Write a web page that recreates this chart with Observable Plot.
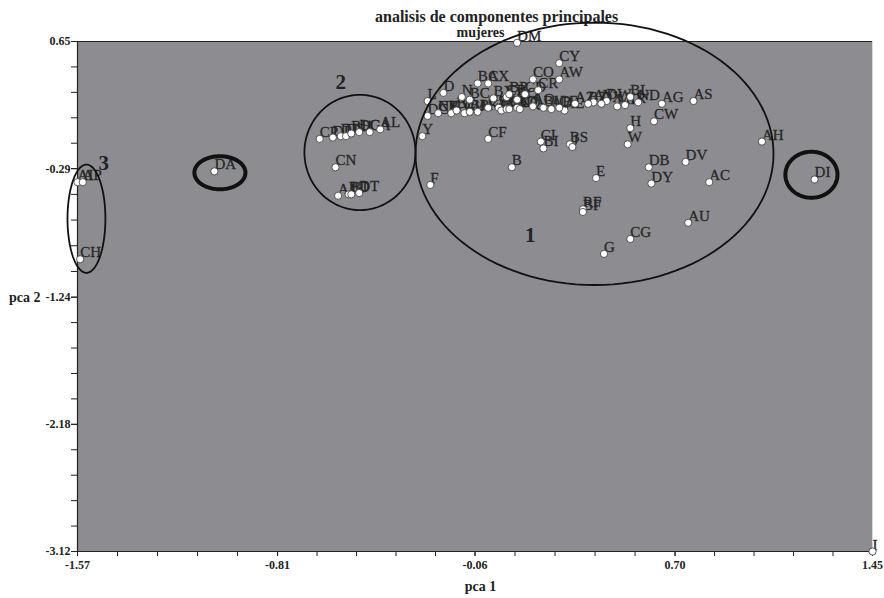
<!DOCTYPE html>
<html><head><meta charset="utf-8">
<script src="https://cdn.jsdelivr.net/npm/d3@7"></script>
<script src="https://cdn.jsdelivr.net/npm/@observablehq/plot@0.6"></script>
<style>body{margin:0;background:#fff} svg{display:block}</style>
</head><body><div id="chart"></div>
<script>
// ---- data ----
const labels = [
  "AI","AP","CH","DA",
  "CP","DL","DJ","DF","BH","DG","CA","AL","CN","AJ","BD","BJ","DT",
  "Y","F","L","D","DC","CK","BA","CX","DM","CY","CO","AW",
  "CF","CI","BI","BS","J","H","W","CW","AH","B","E","DB","DY","DV","AC","RF","BF","AU","CG","G","DI","I",
  "AS","AG","ND","BL","XR","MD","DW","AY","BZ","AE","CE","AB",
  "NB","CV","BE","CU","BR","AK","CS","BG","CZ","BK","DK","BO","CQ","AO","BU",
  "N","BC","BX","CB","BP","BQ","CD","CR","AZ","DX"
];
const pc1 = [
  -1.57,-1.55,-1.56,-1.05,
  -0.65,-0.60,-0.57,-0.55,-0.53,-0.50,-0.46,-0.42,-0.59,-0.58,-0.54,-0.53,-0.50,
  -0.26,-0.23,-0.24,-0.18,-0.24,-0.20,-0.05,-0.01,0.10,0.26,0.16,0.26,
  -0.01,0.19,0.20,0.30,0.31,0.53,0.52,0.62,1.03,0.08,0.40,0.60,0.61,0.74,0.83,0.35,0.35,0.75,0.53,0.43,1.23,1.45,
  0.77,0.65,0.56,0.53,0.51,0.48,0.44,0.39,0.37,0.28,0.26,0.23,
  -0.20,-0.15,-0.13,-0.10,-0.08,-0.05,-0.01,0.03,0.04,0.06,0.07,0.10,0.11,0.16,0.20,
  -0.11,-0.08,0.01,0.06,0.07,0.10,0.13,0.18,0.32,0.42
];
const pc2 = [
  -0.39,-0.39,-0.96,-0.31,
  -0.07,-0.06,-0.05,-0.05,-0.03,-0.02,-0.02,0.00,-0.28,-0.49,-0.48,-0.48,-0.47,
  -0.05,-0.41,0.21,0.27,0.10,0.12,0.34,0.34,0.64,0.49,0.37,0.37,
  -0.07,-0.09,-0.14,-0.11,-0.13,0.01,-0.11,0.06,-0.09,-0.28,-0.36,-0.28,-0.40,-0.24,-0.39,-0.59,-0.61,-0.69,-0.81,-0.92,-0.37,-3.12,
  0.21,0.19,0.20,0.24,0.18,0.17,0.21,0.20,0.19,0.14,0.16,0.15,
  0.12,0.12,0.14,0.12,0.13,0.13,0.16,0.16,0.14,0.15,0.15,0.16,0.15,0.17,0.16,
  0.24,0.22,0.23,0.24,0.26,0.22,0.26,0.29,0.19,0.19
];
const xTickValues = [-1.57,-0.81,-0.06,0.70,1.45];
const xTickLabels = ["-1.57","-0.81","-0.06","0.70","1.45"];
const yTickValues = [0.65,-0.29,-1.24,-2.18,-3.12];
const yTickLabels = ["0.65","-0.29","-1.24","-2.18","-3.12"];
// cluster outlines (centre, radii in data units) and their numbers
const groupNames = ["1","2","3","DA","DI"];
const groupCx = [0.394,-0.497,-1.536,-1.029,1.218];
const groupCy = [-0.18,-0.17,-0.66,-0.32,-0.335];
const groupRx = [0.680,0.211,0.072,0.097,0.099];
const groupRy = [0.970,0.426,0.40,0.122,0.170];
const groupThick = [false,false,false,true,true];
const numberText = ["1","2","3"];
const numberX = [0.15,-0.57,-1.47];
const numberY = [-0.78,0.35,-0.25];

// ---- build tables ----
const points = labels.map((l,i)=>({label:l, x:pc1[i], y:pc2[i]}));
const minor = (vals)=>{const out=[];for(let i=0;i<vals.length-1;i++){for(let k=0;k<5;k++)out.push(vals[i]+(vals[i+1]-vals[i])*k/5);}out.push(vals[vals.length-1]);return out;};
const xAll = minor(xTickValues), yAll = minor(yTickValues);
const xLab = new Map(xTickValues.map((v,i)=>[v,xTickLabels[i]]));
const yLab = new Map(yTickValues.map((v,i)=>[v,yTickLabels[i]]));
const outline = [];
groupNames.forEach((g,i)=>{
  for(let a=0;a<=360;a+=3){const t=a*Math.PI/180;
    outline.push({g, thick:groupThick[i], x:groupCx[i]+groupRx[i]*Math.cos(t), y:groupCy[i]+groupRy[i]*Math.sin(t)});}
});
const nums = numberText.map((t,i)=>({t,x:numberX[i],y:numberY[i]}));

const serif = "Liberation Serif, Times New Roman, serif";
const chart = Plot.plot({
  width: 884, height: 598,
  marginLeft: 77, marginRight: 12, marginTop: 41, marginBottom: 47,
  style: {fontFamily: serif, background: "#fff", overflow: "visible"},
  x: {domain: [-1.57,1.45], nice: false},
  y: {domain: [-3.12,0.65], nice: false},
  marks: [
    Plot.frame({fill: "#8d8d91", stroke: "#d8d8d8", strokeWidth: 1}),
    Plot.ruleY([0.65], {stroke: "#222", strokeWidth: 1.2}),
    Plot.axisX({ticks: xAll, tickFormat: () => "", label: null, tickSize: 5, stroke: "#222"}),
    Plot.axisX({ticks: xTickValues, tickFormat: d => xLab.get(d), label: null, tickSize: 5, tickPadding: 4, fontSize: 12, fontWeight: "bold", fill: "#222", stroke: "#222"}),
    Plot.axisY({ticks: yAll, tickFormat: () => "", label: null, tickSize: 6, stroke: "#222"}),
    Plot.axisY({ticks: yTickValues, tickFormat: d => yLab.get(d), label: null, tickSize: 6, tickPadding: 1, fontSize: 12, fontWeight: "bold", fill: "#222", stroke: "#222"}),
    Plot.ruleX([-1.57], {stroke: "#222", strokeWidth: 1.2}),
    Plot.ruleY([-3.12], {stroke: "#222", strokeWidth: 1.2}),
    Plot.text([{x:-1.57,y:-1.24}], {x:"x", y:"y", text: () => "pca 2", textAnchor: "end", dx: -37, fontSize: 14, fontWeight: "bold", fill: "#222"}),
    Plot.text([{x:-0.039,y:-3.12}], {x:"x", y:"y", text: () => "pca 1", dy: 35, fontSize: 14, fontWeight: "bold", fill: "#222"}),
    Plot.text([{x:0.022,y:0.65}], {x:"x", y:"y", text: () => "analisis de componentes principales", dy: -25, fontSize: 16, fontWeight: "bold", fill: "#222"}),
    Plot.text([{x:-0.039,y:0.65}], {x:"x", y:"y", text: () => "mujeres", dy: -9, fontSize: 14, fontWeight: "bold", fill: "#222"}),
    Plot.text(points, {x:"x", y:"y", text:"label", textAnchor:"start", lineAnchor:"bottom", dx: 0, dy: -2, fontSize: 15, fill: "#262626", stroke: "#262626", strokeWidth: 0.3}),
    Plot.dot(points, {x:"x", y:"y", r: 3.6, fill: "#fff", stroke: "#333", strokeWidth: 0.8}),
    Plot.line(outline.filter(d=>!d.thick), {x:"x", y:"y", z:"g", stroke: "#111", strokeWidth: 1.8, curve: "linear"}),
    Plot.line(outline.filter(d=>d.thick), {x:"x", y:"y", z:"g", stroke: "#111", strokeWidth: 4, curve: "linear"}),
    Plot.text(nums, {x:"x", y:"y", text:"t", fontSize: 21, fontWeight: "bold", fill: "#222"})
  ]
});
document.getElementById("chart").appendChild(chart);
</script>
</body></html>
